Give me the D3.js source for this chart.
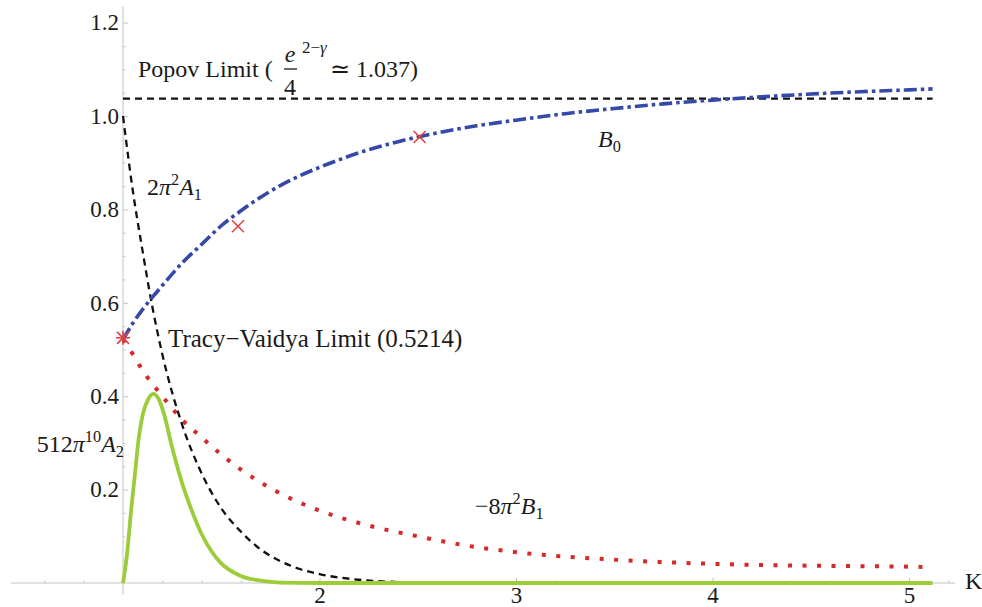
<!DOCTYPE html>
<html>
<head>
<meta charset="utf-8">
<script src="https://cdn.jsdelivr.net/npm/d3@7"></script>
<style>
  html, body { margin: 0; padding: 0; background: #fff; }
</style>
</head>
<body>
<svg id="chart" width="982" height="607"></svg>
<script>
// ---------------- data ----------------
const xTicks = [2, 3, 4, 5];
const yTicks = [0.2, 0.4, 0.6, 0.8, 1.0, 1.2];
const popovLimit = 1.037;

const kB0 = [1.0, 1.05, 1.1, 1.15, 1.2, 1.3, 1.4, 1.5, 1.6, 1.7, 1.8, 1.9, 2.0, 2.2, 2.4, 2.6, 2.8, 3.0, 3.25, 3.5, 3.75, 4.0, 4.25, 4.5, 4.75, 5.0, 5.12];
const valB0 = [0.5214, 0.556, 0.586, 0.612, 0.637, 0.685, 0.725, 0.765, 0.797, 0.826, 0.851, 0.872, 0.89, 0.921, 0.945, 0.964, 0.979, 0.991, 1.005, 1.016, 1.026, 1.034, 1.041, 1.047, 1.052, 1.056, 1.058];

const kA1 = [1.0, 1.05, 1.1, 1.15, 1.2, 1.3, 1.4, 1.5, 1.6, 1.7, 1.8, 1.9, 2.0, 2.2, 2.4, 2.6];
const valA1 = [1.0, 0.84, 0.71, 0.59, 0.49, 0.34, 0.235, 0.16, 0.11, 0.072, 0.047, 0.03, 0.019, 0.007, 0.002, 0.0];

const kA2 = [1.0, 1.02, 1.04, 1.06, 1.08, 1.1, 1.13, 1.155, 1.18, 1.21, 1.25, 1.3, 1.35, 1.4, 1.45, 1.5, 1.6, 1.7, 1.8, 2.0, 3.0, 4.0, 5.12];
const valA2 = [0.0, 0.06, 0.15, 0.23, 0.31, 0.36, 0.395, 0.405, 0.395, 0.36, 0.29, 0.215, 0.155, 0.105, 0.068, 0.042, 0.015, 0.005, 0.001, 0.0, 0.0, 0.0, 0.0];

const kB1 = [1.0, 1.05, 1.1, 1.2, 1.3, 1.4, 1.5, 1.6, 1.8, 2.0, 2.25, 2.5, 2.75, 3.0, 3.5, 4.0, 4.5, 5.0, 5.12];
const valB1 = [0.5214, 0.49, 0.455, 0.40, 0.35, 0.312, 0.275, 0.243, 0.192, 0.155, 0.123, 0.10, 0.08, 0.066, 0.05, 0.041, 0.037, 0.035, 0.034];

const markK = [1.0, 1.585, 2.51];
const markV = [0.525, 0.764, 0.955];

// ---------------- setup ----------------
const FONT = "'Liberation Serif', 'Times New Roman', Times, serif";
const svg = d3.select("#chart").attr("font-family", FONT);
const x = d3.scaleLinear().domain([1, 5]).range([123, 909]);
const y = d3.scaleLinear().domain([0, 1.2]).range([583, 22.6]);

const axisColor = "#c4c4c4";

// axis lines
svg.append("line").attr("x1", x(0.43)).attr("x2", x(5.235)).attr("y1", y(0)).attr("y2", y(0))
  .attr("stroke", axisColor).attr("stroke-width", 1);
svg.append("line").attr("x1", x(1)).attr("x2", x(1)).attr("y1", y(1.235)).attr("y2", y(-0.025))
  .attr("stroke", axisColor).attr("stroke-width", 1);

// x axis ticks
const xMinor = d3.range(0.6, 5.21, 0.2).filter(v => Math.abs(v - Math.round(v)) > 1e-6);
const gxMinor = svg.append("g").attr("transform", `translate(0,${y(0)})`)
  .call(d3.axisBottom(x).tickValues(xMinor).tickSize(-2.5).tickFormat(""));
const gx = svg.append("g").attr("transform", `translate(0,${y(0)})`)
  .call(d3.axisBottom(x).tickValues(xTicks).tickSize(-5).tickPadding(4).tickFormat(d3.format("d")));

// y axis ticks
const yMinor = d3.range(0.05, 1.21, 0.05).filter(v => Math.abs(v * 5 - Math.round(v * 5)) > 1e-6);
const gyMinor = svg.append("g").attr("transform", `translate(${x(1)},0)`)
  .call(d3.axisLeft(y).tickValues(yMinor).tickSize(-2.5).tickFormat(""));
const gy = svg.append("g").attr("transform", `translate(${x(1)},0)`)
  .call(d3.axisLeft(y).tickValues(yTicks).tickSize(-5).tickPadding(4).tickFormat(d3.format(".1f")));

[gx, gy, gxMinor, gyMinor].forEach(g => {
  g.attr("font-family", FONT).attr("font-size", 23);
  g.select(".domain").remove();
  g.selectAll(".tick line").attr("stroke", axisColor);
  g.selectAll(".tick text").attr("fill", "#1a1a1a").attr("font-size", 23).attr("font-family", FONT);
});

// ---------------- lines ----------------
const line = d3.line().x(d => x(d[0])).y(d => y(d[1])).curve(d3.curveMonotoneX);
const zip = (a, b) => a.map((v, i) => [v, b[i]]);

// Popov limit
svg.append("path").datum([[1, popovLimit], [5.12, popovLimit]]).attr("d", line)
  .attr("fill", "none").attr("stroke", "#111").attr("stroke-width", 2.3).attr("stroke-dasharray", "7,5");

// -8 pi^2 B1 (red dotted)
svg.append("path").datum(zip(kB1, valB1)).attr("d", line)
  .attr("fill", "none").attr("stroke", "#d42a2a").attr("stroke-width", 4).attr("stroke-dasharray", "4,10.5");

// 2 pi^2 A1 (black dashed)
svg.append("path").datum(zip(kA1, valA1)).attr("d", line)
  .attr("fill", "none").attr("stroke", "#111").attr("stroke-width", 2.3).attr("stroke-dasharray", "7,5");

// 512 pi^10 A2 (green)
svg.append("path").datum(zip(kA2, valA2)).attr("d", line)
  .attr("fill", "none").attr("stroke", "#9ccc3a").attr("stroke-width", 3.8).attr("stroke-linejoin", "round");

// B0 (blue dash-dot)
svg.append("path").datum(zip(kB0, valB0)).attr("d", line)
  .attr("fill", "none").attr("stroke", "#3549a8").attr("stroke-width", 3.6).attr("stroke-dasharray", "13,4,3.5,4");

// markers
const markColor = "#dd4444";
const s = 6;
const marks = svg.append("g");
markK.forEach((k, i) => {
  const cx = x(k), cy = y(markV[i]);
  const g = marks.append("g").attr("stroke", markColor).attr("stroke-width", 1.6);
  g.append("line").attr("x1", cx - s).attr("y1", cy - s).attr("x2", cx + s).attr("y2", cy + s);
  g.append("line").attr("x1", cx - s).attr("y1", cy + s).attr("x2", cx + s).attr("y2", cy - s);
  if (i === 0) {
    g.append("line").attr("x1", cx).attr("y1", cy - s - 1).attr("x2", cx).attr("y2", cy + s + 1);
    g.append("line").attr("x1", cx - s - 1).attr("y1", cy).attr("x2", cx + s + 1).attr("y2", cy);
  }
});

// ---------------- labels ----------------
function richText(xp, yp, segs, opts = {}) {
  const fs = opts.size || 24;
  const t = svg.append("text").attr("x", xp).attr("y", yp)
    .attr("font-size", fs).attr("fill", "#1a1a1a").attr("font-family", FONT)
    .attr("text-anchor", opts.anchor || "start");
  let shift = 0;
  segs.forEach(([txt, st]) => {
    const sp = t.append("tspan").text(txt);
    let target = 0;
    if (st.includes("sup")) { target = -0.42 * fs; sp.attr("font-size", fs * 0.68); }
    else if (st.includes("sub")) { target = 0.22 * fs; sp.attr("font-size", fs * 0.68); }
    if (st.includes("i")) sp.attr("font-style", "italic");
    sp.attr("dy", target - shift);
    shift = target;
  });
  return t;
}

richText(147, 195, [["2", "n"], ["π", "i"], ["2", "sup"], ["A", "i"], ["1", "sub"]]);
richText(598, 147, [["B", "i"], ["0", "sub"]]);
richText(124, 452, [["512", "n"], ["π", "i"], ["10", "sup"], ["A", "i"], ["2", "sub"]], { anchor: "end" });
richText(475, 514, [["−8", "n"], ["π", "i"], ["2", "sup"], ["B", "i"], ["1", "sub"]]);
richText(168, 347, [["Tracy−Vaidya Limit (0.5214)", "n"]], { size: 25 });

// Popov label with fraction
richText(138, 77, [["Popov Limit (", "n"]]);
svg.append("text").attr("x", 290).attr("y", 62).attr("text-anchor", "middle").attr("font-family", FONT)
  .attr("font-size", 24).attr("font-style", "italic").attr("fill", "#1a1a1a").text("e");
svg.append("text").attr("x", 302).attr("y", 53).attr("font-family", FONT)
  .attr("font-size", 17).attr("fill", "#1a1a1a")
  .call(t => { t.append("tspan").text("2−"); t.append("tspan").attr("font-style", "italic").text("γ"); });
svg.append("line").attr("x1", 284).attr("x2", 297).attr("y1", 69).attr("y2", 69)
  .attr("stroke", "#1a1a1a").attr("stroke-width", 1.3);
svg.append("text").attr("x", 290).attr("y", 95).attr("text-anchor", "middle").attr("font-family", FONT)
  .attr("font-size", 24).attr("fill", "#1a1a1a").text("4");
richText(330, 77, [["≃ 1.037)", "n"]]);

// axis label K
richText(965, 589, [["K", "n"]]);
</script>
</body>
</html>
